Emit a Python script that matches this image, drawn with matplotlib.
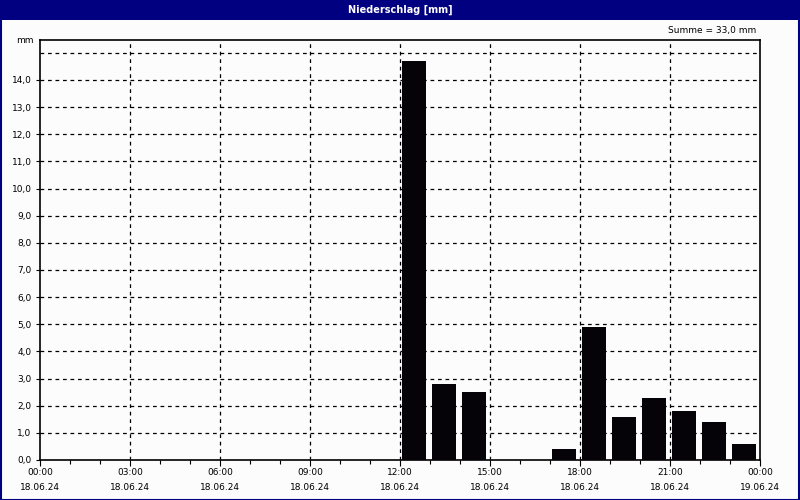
import matplotlib
matplotlib.use("Agg")
import matplotlib.pyplot as plt
from matplotlib.patches import Rectangle
from matplotlib.ticker import MultipleLocator

# hourly precipitation on 18.06.24, value for the hour starting at "hours"
hours = [12, 13, 14, 17, 18, 19, 20, 21, 22, 23]
rain_mm = [14.7, 2.8, 2.5, 0.4, 4.9, 1.6, 2.3, 1.8, 1.4, 0.6]

tick_hours = [0, 3, 6, 9, 12, 15, 18, 21, 24]
tick_times = ["00:00", "03:00", "06:00", "09:00", "12:00", "15:00", "18:00", "21:00", "00:00"]
tick_dates = ["18.06.24"] * 8 + ["19.06.24"]
y_ticks = [0, 1, 2, 3, 4, 5, 6, 7, 8, 9, 10, 11, 12, 13, 14]

navy = "#000080"
plt.rcParams['font.family'] = ['DejaVu Sans']

fig = plt.figure(figsize=(8, 5), dpi=100, facecolor="#fcfcfc")

# title bar and frame
fig.patches.append(Rectangle((0, 1 - 20 / 500), 1, 20 / 500, transform=fig.transFigure,
                             facecolor=navy, edgecolor="none", zorder=0))
fig.patches.append(Rectangle((0.5 / 800, 0.5 / 500), 1 - 1.5 / 800, 1 - 1.5 / 500,
                             transform=fig.transFigure, facecolor="none",
                             edgecolor=navy, linewidth=1.5, zorder=1))
fig.text(0.5, 1 - 10 / 500, "Niederschlag [mm]", color="white", fontsize=7,
         fontweight="bold", ha="center", va="center")

ax = fig.add_axes([40 / 800, 40 / 500, 720 / 800, 420 / 500])
ax.set_facecolor("#fcfcfc")

ax.bar([h + 0.06 for h in hours], rain_mm, width=0.8, align="edge",
       color="#050308", edgecolor="none", zorder=3)

ax.set_xlim(0, 24)
ax.set_ylim(0, 15.47)

ax.set_xticks(tick_hours)
ax.set_xticklabels([t + "\n" + d for t, d in zip(tick_times, tick_dates)],
                   fontsize=6.5, linespacing=1.9)
ax.xaxis.set_minor_locator(MultipleLocator(1))
ax.set_yticks(y_ticks)
ax.set_yticklabels([f"{v},0" for v in y_ticks], fontsize=6.5)

ax.tick_params(axis="x", which="major", length=4, width=0.8, pad=1.5)
ax.tick_params(axis="x", which="minor", length=3, width=0.8)
ax.tick_params(axis="y", length=3, width=0.8, pad=3)

for v in y_ticks[1:] + [15]:
    ax.axhline(v, color="black", linestyle=(0, (3, 3)), linewidth=0.9, zorder=1)
for h in tick_hours[1:-1]:
    ax.axvline(h, color="black", linestyle=(0, (3, 3)), linewidth=0.9, zorder=1)

for s in ax.spines.values():
    s.set_linewidth(1.2)

ax.text(-0.2, 15.47, "mm", fontsize=6.5, ha="right", va="center")
fig.text(756 / 800, 1 - 31 / 500, "Summe = 33,0 mm", fontsize=6.5, ha="right", va="center")

fig.savefig("out.png", dpi=100, facecolor=fig.get_facecolor())
